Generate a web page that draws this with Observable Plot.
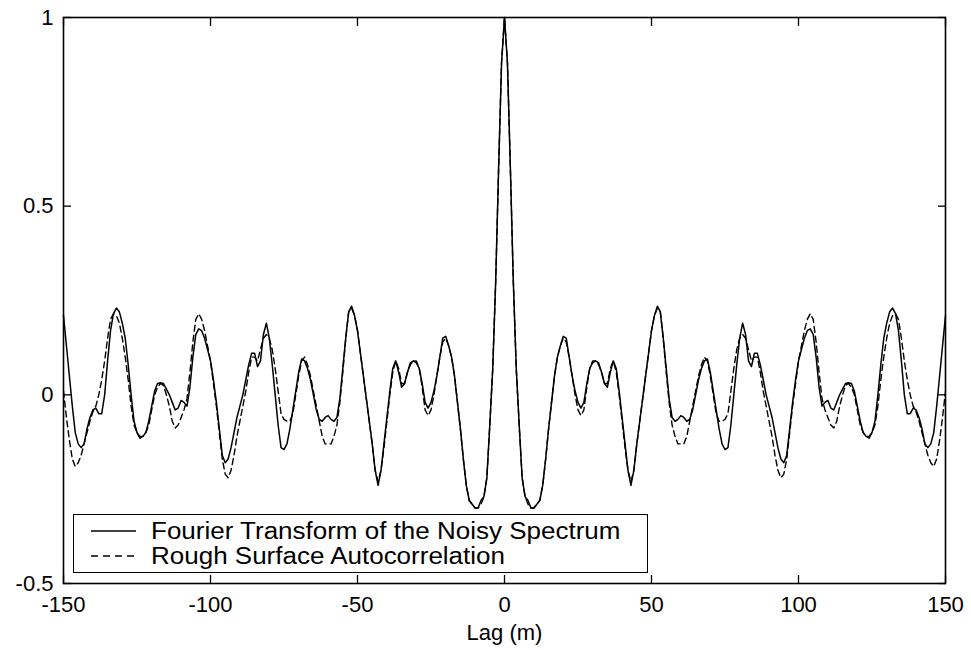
<!DOCTYPE html>
<html>
<head>
<meta charset="utf-8">
<script src="https://cdn.jsdelivr.net/npm/d3@7"></script>
<script src="https://cdn.jsdelivr.net/npm/@observablehq/plot@0.6"></script>
<style>
  html, body { margin: 0; padding: 0; background: #fff; }
  #wrap { position: relative; width: 971px; height: 650px; font-family: "Liberation Sans", Arial, Helvetica, sans-serif; }
  #legend { position: absolute; left: 73px; top: 514px; width: 575px; height: 59px; border: 1.5px solid #000; background: #fff; box-sizing: border-box; }
  .row { position: absolute; left: 0; height: 26px; display: flex; align-items: center; font-size: 23px; color: #000; white-space: nowrap; }
  .row svg { margin-left: 17px; margin-right: 15px; flex: none; }
  .row span { display: inline-block; transform: scaleX(1.13); transform-origin: left center; }
</style>
</head>
<body>
<div id="wrap"></div>
<script>
// Lag values (m)
const lag = d3.range(-150, 151);

// Fourier Transform of the Noisy Spectrum (solid), lag -150 .. 150
const fourier = [
  0.21,0.13,0.05,-0.03,-0.10,-0.13,-0.14,-0.13,-0.09,-0.06,
  -0.04,-0.035,-0.05,-0.05,0.00,0.09,0.17,0.215,0.23,0.22,
  0.19,0.15,0.08,0.00,-0.07,-0.10,-0.115,-0.11,-0.10,-0.07,
  -0.03,0.01,0.03,0.032,0.03,0.015,0.00,-0.02,-0.04,-0.035,
  -0.015,-0.02,-0.03,0.02,0.10,0.16,0.175,0.17,0.15,0.12,
  0.09,0.04,-0.02,-0.09,-0.16,-0.18,-0.17,-0.14,-0.10,-0.06,
  -0.03,0.00,0.04,0.08,0.11,0.11,0.075,0.09,0.16,0.19,
  0.15,0.08,0.00,-0.08,-0.14,-0.145,-0.13,-0.09,-0.04,0.01,
  0.06,0.095,0.09,0.07,0.04,0.00,-0.04,-0.065,-0.07,-0.06,
  -0.055,-0.065,-0.07,-0.06,-0.01,0.07,0.15,0.22,0.235,0.21,
  0.17,0.11,0.05,-0.01,-0.07,-0.13,-0.20,-0.24,-0.20,-0.13,
  -0.06,0.01,0.07,0.09,0.06,0.02,0.03,0.06,0.085,0.09,
  0.085,0.07,0.03,-0.02,-0.035,-0.02,0.01,0.05,0.10,0.15,
  0.155,0.13,0.10,0.05,-0.02,-0.09,-0.17,-0.24,-0.28,-0.29,
  -0.30,-0.30,-0.28,-0.27,-0.22,-0.08,0.07,0.30,0.60,0.88,
  1.00,
  0.88,0.60,0.30,0.07,-0.08,-0.22,-0.27,-0.28,-0.30,-0.30,
  -0.29,-0.28,-0.24,-0.17,-0.09,-0.02,0.05,0.10,0.13,0.155,
  0.15,0.10,0.05,0.01,-0.02,-0.035,-0.02,0.03,0.07,0.085,
  0.09,0.085,0.06,0.03,0.02,0.06,0.09,0.07,0.01,-0.06,
  -0.13,-0.20,-0.24,-0.20,-0.13,-0.07,-0.01,0.05,0.11,0.17,
  0.21,0.235,0.22,0.15,0.07,-0.01,-0.06,-0.07,-0.065,-0.055,
  -0.06,-0.07,-0.065,-0.04,0.00,0.04,0.07,0.09,0.095,0.06,
  0.01,-0.04,-0.09,-0.13,-0.145,-0.14,-0.08,0.00,0.08,0.15,
  0.19,0.16,0.09,0.075,0.11,0.11,0.08,0.04,0.00,-0.03,
  -0.06,-0.10,-0.14,-0.17,-0.18,-0.16,-0.09,-0.02,0.04,0.09,
  0.12,0.15,0.17,0.175,0.16,0.10,0.02,-0.03,-0.02,-0.015,
  -0.035,-0.04,-0.02,0.00,0.015,0.03,0.032,0.03,0.01,-0.03,
  -0.07,-0.10,-0.11,-0.115,-0.10,-0.07,0.00,0.08,0.15,0.19,
  0.22,0.23,0.215,0.17,0.09,0.00,-0.05,-0.05,-0.035,-0.04,
  -0.06,-0.09,-0.13,-0.14,-0.13,-0.10,-0.03,0.05,0.13,0.21
];

// Rough Surface Autocorrelation (dashed), lag -150 .. 150
const rough = [
  0.01,-0.06,-0.12,-0.17,-0.19,-0.18,-0.16,-0.13,-0.10,-0.07,
  -0.045,-0.03,0.00,0.04,0.09,0.15,0.20,0.215,0.21,0.19,
  0.15,0.10,0.04,-0.03,-0.08,-0.10,-0.11,-0.11,-0.10,-0.08,
  -0.04,0.00,0.02,0.03,0.025,0.00,-0.03,-0.07,-0.088,-0.08,
  -0.06,-0.04,-0.01,0.06,0.14,0.20,0.215,0.20,0.17,0.13,
  0.09,0.03,-0.03,-0.10,-0.17,-0.21,-0.22,-0.20,-0.16,-0.11,
  -0.07,-0.03,0.01,0.06,0.10,0.10,0.09,0.12,0.15,0.16,
  0.15,0.12,0.07,0.01,-0.05,-0.065,-0.07,-0.07,-0.05,0.00,
  0.05,0.09,0.10,0.08,0.05,0.01,-0.03,-0.07,-0.11,-0.13,
  -0.13,-0.13,-0.11,-0.08,-0.02,0.06,0.15,0.22,0.23,0.21,
  0.17,0.11,0.05,-0.01,-0.07,-0.13,-0.20,-0.23,-0.20,-0.14,
  -0.07,0.00,0.06,0.09,0.07,0.03,0.03,0.06,0.08,0.09,
  0.09,0.07,0.02,-0.04,-0.055,-0.04,0.00,0.05,0.10,0.14,
  0.15,0.13,0.10,0.05,-0.02,-0.09,-0.17,-0.24,-0.28,-0.29,
  -0.30,-0.30,-0.29,-0.27,-0.22,-0.08,0.07,0.30,0.60,0.88,
  1.00,
  0.88,0.60,0.30,0.07,-0.08,-0.22,-0.27,-0.29,-0.30,-0.30,
  -0.29,-0.28,-0.24,-0.17,-0.09,-0.02,0.05,0.10,0.13,0.15,
  0.14,0.10,0.05,0.00,-0.04,-0.055,-0.04,0.02,0.07,0.09,
  0.09,0.08,0.06,0.03,0.03,0.07,0.09,0.06,0.00,-0.07,
  -0.14,-0.20,-0.23,-0.20,-0.13,-0.07,-0.01,0.05,0.11,0.17,
  0.21,0.23,0.22,0.15,0.06,-0.02,-0.08,-0.11,-0.13,-0.13,
  -0.13,-0.11,-0.07,-0.03,0.01,0.05,0.08,0.10,0.09,0.05,
  0.00,-0.05,-0.07,-0.07,-0.065,-0.05,0.01,0.07,0.12,0.15,
  0.16,0.15,0.12,0.09,0.10,0.10,0.06,0.01,-0.03,-0.07,
  -0.11,-0.16,-0.20,-0.22,-0.21,-0.17,-0.10,-0.03,0.03,0.09,
  0.13,0.17,0.20,0.215,0.20,0.14,0.06,-0.01,-0.04,-0.06,
  -0.08,-0.088,-0.07,-0.03,0.00,0.025,0.03,0.02,0.00,-0.04,
  -0.08,-0.10,-0.11,-0.11,-0.10,-0.08,-0.03,0.04,0.10,0.15,
  0.19,0.21,0.215,0.20,0.15,0.09,0.04,0.00,-0.03,-0.045,
  -0.07,-0.10,-0.13,-0.16,-0.18,-0.19,-0.17,-0.12,-0.06,0.01
];

const xTicks = [-150, -100, -50, 0, 50, 100, 150];
const yTicks = [-0.5, 0, 0.5, 1];
const seriesNames = ["Fourier Transform of the Noisy Spectrum", "Rough Surface Autocorrelation"];
const xLabel = "Lag (m)";

const solidData = lag.map((x, i) => ({lag: x, value: fourier[i]}));
const dashedData = lag.map((x, i) => ({lag: x, value: rough[i]}));

const fmt = d => String(d);

const chart = Plot.plot({
  width: 971,
  height: 650,
  marginLeft: 63,
  marginRight: 26,
  marginTop: 17,
  marginBottom: 67,
  style: {fontFamily: "'Liberation Sans', Arial, Helvetica, sans-serif", fontSize: "22px", color: "#000", background: "#fff"},
  x: {domain: [-150, 150]},
  y: {domain: [-0.5, 1]},
  marks: [
    Plot.line(dashedData, {x: "lag", y: "value", stroke: "#000", strokeWidth: 1.4, strokeDasharray: "6,4"}),
    Plot.line(solidData, {x: "lag", y: "value", stroke: "#000", strokeWidth: 1.5}),
    Plot.axisX(xTicks, {anchor: "bottom", tickSize: 0, tickPadding: 13, tickFormat: fmt, label: null, fontSize: 22}),
    Plot.axisX(xTicks, {anchor: "bottom", tickSize: -8, tickFormat: () => "", label: null, strokeWidth: 1.3}),
    Plot.axisX(xTicks, {anchor: "top", tickSize: -8, tickFormat: () => "", label: null, strokeWidth: 1.3}),
    Plot.axisY(yTicks, {anchor: "left", tickSize: 0, tickPadding: 10, tickFormat: fmt, label: null, fontSize: 22}),
    Plot.axisY(yTicks, {anchor: "left", tickSize: -8, tickFormat: () => "", label: null, strokeWidth: 1.3}),
    Plot.axisY(yTicks, {anchor: "right", tickSize: -8, tickFormat: () => "", label: null, strokeWidth: 1.3}),
    Plot.text([xLabel], {frameAnchor: "bottom", dy: 49, lineAnchor: "middle", fontSize: 22}),
    Plot.frame({stroke: "#000", strokeWidth: 1.6})
  ]
});

const wrap = document.getElementById("wrap");
wrap.appendChild(chart);

// Legend box (inside plot area, bottom-left)
const legend = document.createElement("div");
legend.id = "legend";
seriesNames.forEach((name, i) => {
  const row = document.createElement("div");
  row.className = "row";
  row.style.top = (i === 0 ? 3 : 28) + "px";
  const dash = i === 0 ? "" : 'stroke-dasharray="7,5"';
  row.innerHTML = `<svg width="45" height="6"><line x1="0" y1="3" x2="45" y2="3" stroke="#000" stroke-width="1.5" ${dash}/></svg><span>${name}</span>`;
  legend.appendChild(row);
});
wrap.appendChild(legend);
</script>
</body>
</html>
